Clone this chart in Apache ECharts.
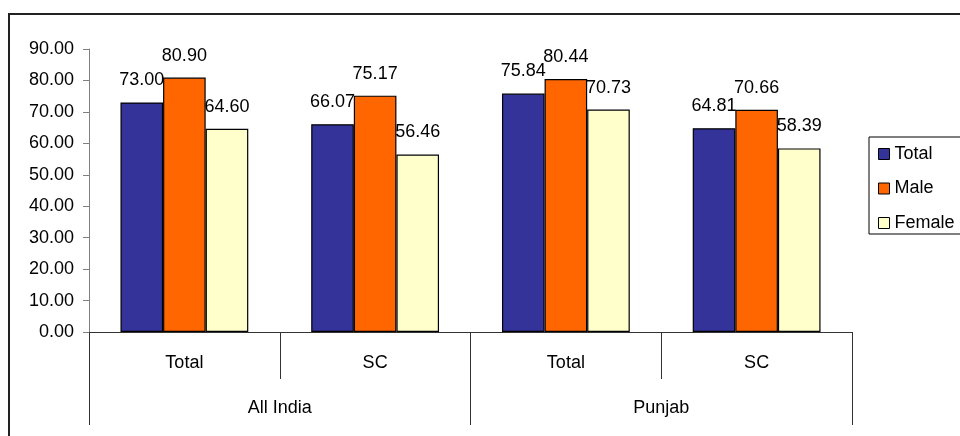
<!DOCTYPE html>
<html>
<head>
<meta charset="utf-8">
<script src="https://cdn.jsdelivr.net/npm/echarts@6/dist/echarts.min.js"></script>
<style>
  html, body { margin: 0; padding: 0; background: #fff; }
  #chart { width: 960px; height: 436px; }
</style>
</head>
<body>
<div id="chart"></div>
<script>
var groups = ['All India', 'Punjab'];
var categories = ['Total', 'SC', 'Total', 'SC'];
var seriesNames = ['Total', 'Male', 'Female'];
var totalValues = [73.00, 66.07, 75.84, 64.81];
var maleValues = [80.90, 75.17, 80.44, 70.66];
var femaleValues = [64.60, 56.46, 70.73, 58.39];
var colors = ['#333399', '#FF6600', '#FFFFCC'];

var chart = echarts.init(document.getElementById('chart'));
var font = 'Liberation Sans, Arial, sans-serif';

function barSeries(name, values, color) {
  return {
    name: name,
    type: 'bar',
    xAxisIndex: 0,
    data: values,
    barGap: 0,
    barCategoryGap: '33%',
    itemStyle: { color: color, borderColor: '#000', borderWidth: 1.2 },
    label: {
      show: true,
      position: 'top',
      distance: 13,
      color: '#000',
      fontSize: 18,
      fontFamily: font,
      formatter: function (p) { return p.value.toFixed(2); }
    }
  };
}

var option = {
  animation: false,
  backgroundColor: '#fff',
  // outer frame, cut off at right and bottom like the original
  graphic: [{
    type: 'rect',
    shape: { x: 9, y: 14, width: 1200, height: 1000 },
    style: { fill: 'none', stroke: '#222', lineWidth: 2 },
    silent: true
  }],
  grid: { left: 89, right: 108, top: 49, bottom: 104 },
  legend: {
    orient: 'vertical',
    left: 869,
    top: 137,
    padding: [8, 8, 2, 9],
    itemGap: 16.5,
    itemWidth: 11,
    itemHeight: 11,
    borderColor: '#000',
    borderWidth: 1,
    textStyle: { fontSize: 18, fontFamily: font, color: '#000' },
    itemStyle: { borderColor: '#000', borderWidth: 1 },
    data: seriesNames.map(function (n) { return { name: n, icon: 'rect' }; })
  },
  xAxis: [{
    type: 'category',
    position: 'bottom',
    data: categories,
    axisLine: { lineStyle: { color: '#333', width: 1 } },
    axisTick: { show: true, interval: 0, alignWithLabel: false, length: 47, lineStyle: { color: '#333' } },
    axisLabel: { interval: 0, margin: 22, fontSize: 18, fontFamily: font, color: '#000' }
  }, {
    type: 'category',
    position: 'bottom',
    offset: 0,
    data: groups,
    axisLine: { show: false },
    axisTick: { show: true, interval: 0, alignWithLabel: false, length: 93, lineStyle: { color: '#333' } },
    axisLabel: { interval: 0, margin: 67, fontSize: 18, fontFamily: font, color: '#000' }
  }],
  yAxis: {
    type: 'value',
    min: 0,
    max: 90,
    interval: 10,
    axisLine: { show: true, lineStyle: { color: '#808080', width: 1 } },
    axisTick: { show: true, length: 6, lineStyle: { color: '#808080' } },
    splitLine: { show: false },
    axisLabel: {
      margin: 15,
      fontSize: 18,
      fontFamily: font,
      color: '#000',
      formatter: function (v) { return v.toFixed(2); }
    }
  },
  series: [
    barSeries(seriesNames[0], totalValues, colors[0]),
    barSeries(seriesNames[1], maleValues, colors[1]),
    barSeries(seriesNames[2], femaleValues, colors[2])
  ]
};

chart.setOption(option);
</script>
</body>
</html>
